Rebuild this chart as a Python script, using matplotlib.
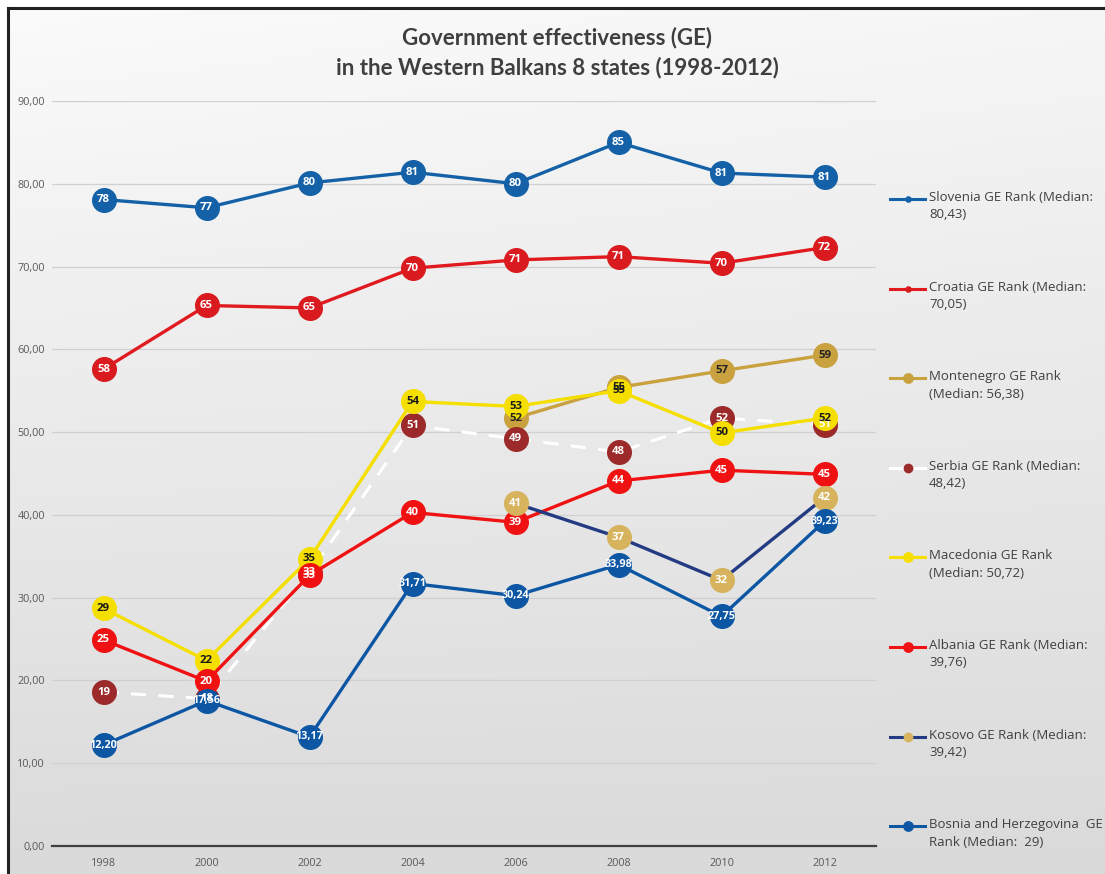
import matplotlib
matplotlib.use('Agg')
import matplotlib.pyplot as plt
import numpy as np
from matplotlib.lines import Line2D

nan = np.nan
years = ['1998', '2000', '2002', '2004', '2006', '2008', '2010', '2012']
slovenia = [78.1, 77.1, 80.1, 81.4, 80.0, 85.0, 81.3, 80.8]
croatia = [57.6, 65.3, 65.0, 69.8, 70.8, 71.2, 70.4, 72.3]
montenegro = [nan, nan, nan, nan, 51.7, 55.4, 57.4, 59.3]
serbia = [18.6, 17.8, 33.0, 50.8, 49.2, 47.6, 51.7, 50.9]
macedonia = [28.7, 22.4, 34.7, 53.7, 53.1, 55.0, 49.9, 51.7]
albania = [24.9, 19.9, 32.7, 40.3, 39.1, 44.1, 45.4, 44.9]
kosovo = [nan, nan, nan, nan, 41.4, 37.3, 32.1, 42.1]
bosnia = [12.20, 17.56, 13.17, 31.71, 30.24, 33.98, 27.75, 39.23]

legend_labels = [
    'Slovenia GE Rank (Median:\n80,43)',
    'Croatia GE Rank (Median:\n70,05)',
    'Montenegro GE Rank\n(Median: 56,38)',
    'Serbia GE Rank (Median:\n48,42)',
    'Macedonia GE Rank\n(Median: 50,72)',
    'Albania GE Rank (Median:\n39,76)',
    'Kosovo GE Rank (Median:\n39,42)',
    'Bosnia and Herzegovina  GE\nRank (Median:  29)',
]
yticks = [0, 10, 20, 30, 40, 50, 60, 70, 80, 90]
ytick_labels = ['0,00', '10,00', '20,00', '30,00', '40,00', '50,00', '60,00', '70,00', '80,00', '90,00']
title = 'Government effectiveness (GE)\nin the Western Balkans 8 states (1998-2012)'

# style per series: (data, line color, marker color, label color, dashed, decimals, legend marker size)
series = [
    (slovenia, '#1461A8', '#1461A8', 'white', False, 0, 5),
    (croatia, '#E01A1E', '#D91B1F', 'white', False, 0, 5),
    (montenegro, '#C9A23F', '#C9A23F', '#222222', False, 0, 9),
    (serbia, 'white', '#9C2A2B', 'white', True, 0, 8),
    (macedonia, '#F5DF00', '#F5DF00', '#1a1a1a', False, 0, 9),
    (albania, '#F01212', '#F01212', 'white', False, 0, 9),
    (kosovo, '#223B82', '#D6B35C', 'white', False, 0, 8),
    (bosnia, '#0C56A4', '#0C56A4', 'white', False, 2, 9),
]

W, H = 1105, 874
fig = plt.figure(figsize=(W / 100, H / 100), dpi=100)

# background gradient
bg = fig.add_axes([0, 0, 1, 1], zorder=-10)
gy = np.linspace(0, 1, 200)[:, None]
gx = np.linspace(0, 1, 200)[None, :]
grad = 0.985 - 0.13 * gy - 0.02 * gx * (1 - gy)
bg.imshow(np.dstack([grad, grad, grad]), extent=[0, W, H, 0], aspect='auto')
bg.set_xlim(0, W)
bg.set_ylim(H, 0)
bg.fill_between([0, W], 0, 8, color='white')
bg.fill_between([0, 8], 0, H, color='white')
bg.plot([8, W], [8, 8], color='#222222', lw=2.2)
bg.plot([8, 8], [8, H], color='#222222', lw=2.2)
bg.axis('off')

left, right = 52, 876
top, bottom = 101, 846
ax = fig.add_axes([left / W, (H - bottom) / H, (right - left) / W, (bottom - top) / H])
ax.patch.set_alpha(0)
x = np.arange(len(years))
ax.set_xlim(-0.5, len(years) - 0.5)
ax.set_ylim(0, 90)
ax.set_yticks(yticks)
ax.set_yticklabels(ytick_labels)
ax.set_xticks(x)
ax.set_xticklabels(years)
ax.tick_params(axis='both', length=0, labelsize=7.8, colors='#595959')
ax.tick_params(axis='y', pad=5)
ax.tick_params(axis='x', pad=9)
for lab in ax.get_xticklabels() + ax.get_yticklabels():
    lab.set_fontfamily('Open Sans')
for s in ['top', 'right', 'left']:
    ax.spines[s].set_visible(False)
ax.spines['bottom'].set_color('#404040')
ax.spines['bottom'].set_linewidth(1.6)
for yv in yticks[1:]:
    ax.axhline(yv, color='#D0D0D0', lw=0.9, zorder=0)

z = 2
for data, lc, mc, tc, dashed, dec, _ in series:
    d = np.array(data, dtype=float)
    if dashed:
        ax.plot(x, d, color=lc, lw=2.2, dashes=(5, 4), zorder=z, clip_on=False)
    else:
        ax.plot(x, d, color=lc, lw=2.4, zorder=z, clip_on=False)
    ax.plot(x, d, ls='none', marker='o', ms=17, mfc=mc, mec=mc, zorder=z + 0.5, clip_on=False)
    z += 1

for data, lc, mc, tc, dashed, dec, _ in series:
    for xi, v in zip(x, data):
        if np.isnan(v):
            continue
        txt = f'{v:.{dec}f}'.replace('.', ',')
        ax.text(xi, v, txt, ha='center', va='center', color=tc, fontsize=7.8 if dec else 8.2,
                fontweight='bold', family='Open Sans', zorder=50, clip_on=False)

fig.text(557 / W, 1 - 52.5 / H, title, ha='center', va='center', fontsize=16,
         fontweight='bold', family='Lato', color='#3F3F3F', linespacing=1.5)

# legend drawn in pixel space
lg = fig.add_axes([0, 0, 1, 1], zorder=20)
lg.set_xlim(0, W)
lg.set_ylim(H, 0)
lg.axis('off')
lg.patch.set_alpha(0)
y0, dy = 199, 89.6
for i, ((data, lc, mc, tc, dashed, dec, lms), lab) in enumerate(zip(series, legend_labels)):
    yy = y0 + i * dy
    lg.add_line(Line2D([890, 925], [yy, yy], color=lc, lw=2.2))
    lg.add_line(Line2D([907.5], [yy], marker='o', ms=lms * 0.75, mfc=mc, mec=mc, ls='none'))
    lg.text(929, yy - 8, lab, ha='left', va='top', fontsize=9.5, family='Open Sans',
            color='#404040', linespacing=1.45)

fig.savefig('out.png', dpi=100)
